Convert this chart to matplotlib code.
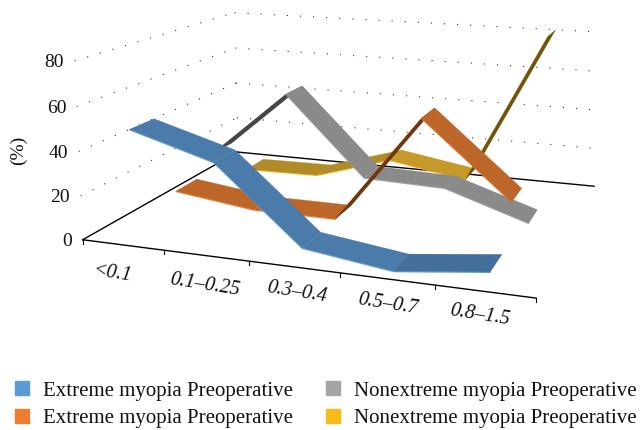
"""Extreme vs nonextreme myopia, 3D ribbon chart drawn through a fitted camera."""

import matplotlib
matplotlib.use("Agg")
import matplotlib.pyplot as plt
import numpy as np
from matplotlib.colors import to_rgb
from matplotlib.patches import Patch

plt.rcParams["font.family"] = ["Liberation Serif", "DejaVu Serif"]

CATEGORIES = ["<0.1", "0.1\u20130.25", "0.3\u20130.4", "0.5\u20130.7", "0.8\u20131.5"]
SERIES_LABELS = [
    "Extreme myopia Preoperative",
    "Extreme myopia Preoperative",
    "Nonextreme myopia Preoperative",
    "Nonextreme myopia Preoperative",
]
EXTREME_A = [49.4, 38.4, 5.1, 0, 4.7]
EXTREME_B = [10.3, 5.5, 5.5, 55.2, 21.8]
NONEXTREME_A = [18.8, 52.0, 13.8, 12.7, 0]
NONEXTREME_B = [0, 0.5, 12.4, 6.0, 81.3]
Z_TICKS = [0, 20, 40, 60, 80]

TOP_COLORS = ["#4a7bab", "#bd662a", "#8a8a8a", "#c59a2b"]
DARK_COLORS = ["#3f6c94", "#6e3512", "#454545", "#6e5210"]
LIP_COLORS = ["#5b9bd5", "#ed7d31", "#a5a5a5", "#ffc000"]
LEGEND_COLORS = ["#5b9bd5", "#ed7d31", "#a5a5a5", "#f6bb1a"]

# where the chart box corners land on the 643x430 canvas: (cat, depth, value) -> pixel
CAMERA_POINTS = [
    (0, 0, 0, 84, 239), (5, 0, 0, 537, 297), (0, 1, 0, 235, 152), (5, 1, 0, 593, 186),
    (0, 0, 80, 73, 61), (0, 1, 80, 236, 12), (5, 1, 80, 597, 32),
    (0, 0, 40, 79, 152), (0, 1, 40, 236, 83), (5, 1, 40, 597, 110),
    (2, 0, 0, 249, 262), (3, 0, 0, 339, 273), (4, 0, 0, 435, 285), (1, 0, 0, 164, 250),
    (5, 1, 20, 597, 149), (0, 1, 20, 238, 118), (0, 0, 20, 81, 196),
]
# small pixel corrections for the slanted category labels
LABEL_DX = [-10, -1, 3, 1, -5]
LABEL_DY = [29, 29, 25, 25, 24]


def fit_camera(points):
    rows = []
    for x, y, z, u, v in points:
        rows.append([x, y, z, 1, 0, 0, 0, 0, -u * x, -u * y, -u * z, -u])
        rows.append([0, 0, 0, 0, x, y, z, 1, -v * x, -v * y, -v * z, -v])
    _, _, vt = np.linalg.svd(np.array(rows, dtype=float))
    return vt[-1].reshape(3, 4)


CAMERA = fit_camera(CAMERA_POINTS)


def project(x, y, z):
    w = CAMERA @ np.array([x, y, z, 1.0])
    return w[0] / w[2], w[1] / w[2]


def edge(x0, y0, z0, x1, y1, z1):
    a, b = project(x0, y0, z0), project(x1, y1, z1)
    return [a[0], b[0]], [a[1], b[1]]


def draw_series(ax, values, depth, idx, width=0.135, lip=0.4):
    y0, y1 = depth - width / 2, depth + width / 2
    xs = np.arange(len(values)) + 0.5
    for i in range(len(values) - 1):
        xa, xb, za, zb = xs[i], xs[i + 1], values[i], values[i + 1]
        quad = [project(xa, y0, za), project(xb, y0, zb), project(xb, y1, zb), project(xa, y1, za)]
        quad = np.array(quad)
        area = 0.5 * np.sum(quad[:, 0] * np.roll(quad[:, 1], -1) - np.roll(quad[:, 0], -1) * quad[:, 1])
        if area < 0:
            # rising stretches catch less light
            shade = 0.9 if zb > za + 0.25 else 1.0
            color = tuple(c * shade for c in to_rgb(TOP_COLORS[idx]))
        else:
            color = DARK_COLORS[idx]
        lip_quad = [project(xa, y0, za), project(xb, y0, zb), project(xb, y0, zb - lip), project(xa, y0, za - lip)]
        ax.fill(*zip(*lip_quad), color=LIP_COLORS[idx], lw=0.2, zorder=3 + 0.1 * (3 - idx))
        ax.fill(quad[:, 0], quad[:, 1], color=color, lw=0.2, zorder=3 + 0.1 * (3 - idx))


fig = plt.figure(figsize=(6.43, 4.30), dpi=100)
ax = fig.add_axes([0, 0, 1, 1])
ax.set_xlim(0, 643)
ax.set_ylim(430, 0)
ax.axis("off")

# floor and dotted walls
for seg in [(0, 0, 0, 5, 0, 0), (0, 0, 0, 0, 1, 0), (0, 1, 0, 5, 1, 0)]:
    ax.plot(*edge(*seg), color="black", lw=1.0, zorder=2)
for z in Z_TICKS[1:]:
    for seg in [(0, 0, z, 0, 1, z), (0, 1, z, 5, 1, z)]:
        ax.plot(*edge(*seg), color="#333333", lw=0.8, ls=(0, (1, 10.8)), zorder=1)

for i in range(len(CATEGORIES) + 1):
    px, py = project(i, 0, 0)
    ax.plot([px, px], [py, py + 4], color="black", lw=0.8, zorder=2)

for idx, values in reversed(list(enumerate([EXTREME_A, EXTREME_B, NONEXTREME_A, NONEXTREME_B]))):
    draw_series(ax, values, 0.125 + 0.25 * idx, idx)

for z in Z_TICKS:
    px, py = project(0, 0, z)
    ax.text(px - 10.5, py + 2, str(z), ha="right", va="center", fontsize=14, color="#111111")
ax.text(18, 150, "(%)", rotation=90, ha="center", va="center", fontsize=14, color="#111111")

for i, label in enumerate(CATEGORIES):
    px, py = project(i + 0.5, 0, 0)
    ax.text(px + LABEL_DX[i], py + LABEL_DY[i], label, rotation=-9, ha="center", va="center",
            fontsize=14.5, style="italic", color="#111111", rotation_mode="anchor")

handles = [Patch(color=c, label=l) for c, l in zip(LEGEND_COLORS, SERIES_LABELS)]
ax.legend(handles=handles, ncols=2, loc="lower left", bbox_to_anchor=(15, 428),
          bbox_transform=ax.transData, frameon=False, fontsize=15, handlelength=0.67,
          handleheight=0.67, handletextpad=0.67, columnspacing=1.58, labelspacing=0.385,
          borderpad=0, borderaxespad=0, labelcolor="#111111")

fig.savefig("out.png", dpi=100)
